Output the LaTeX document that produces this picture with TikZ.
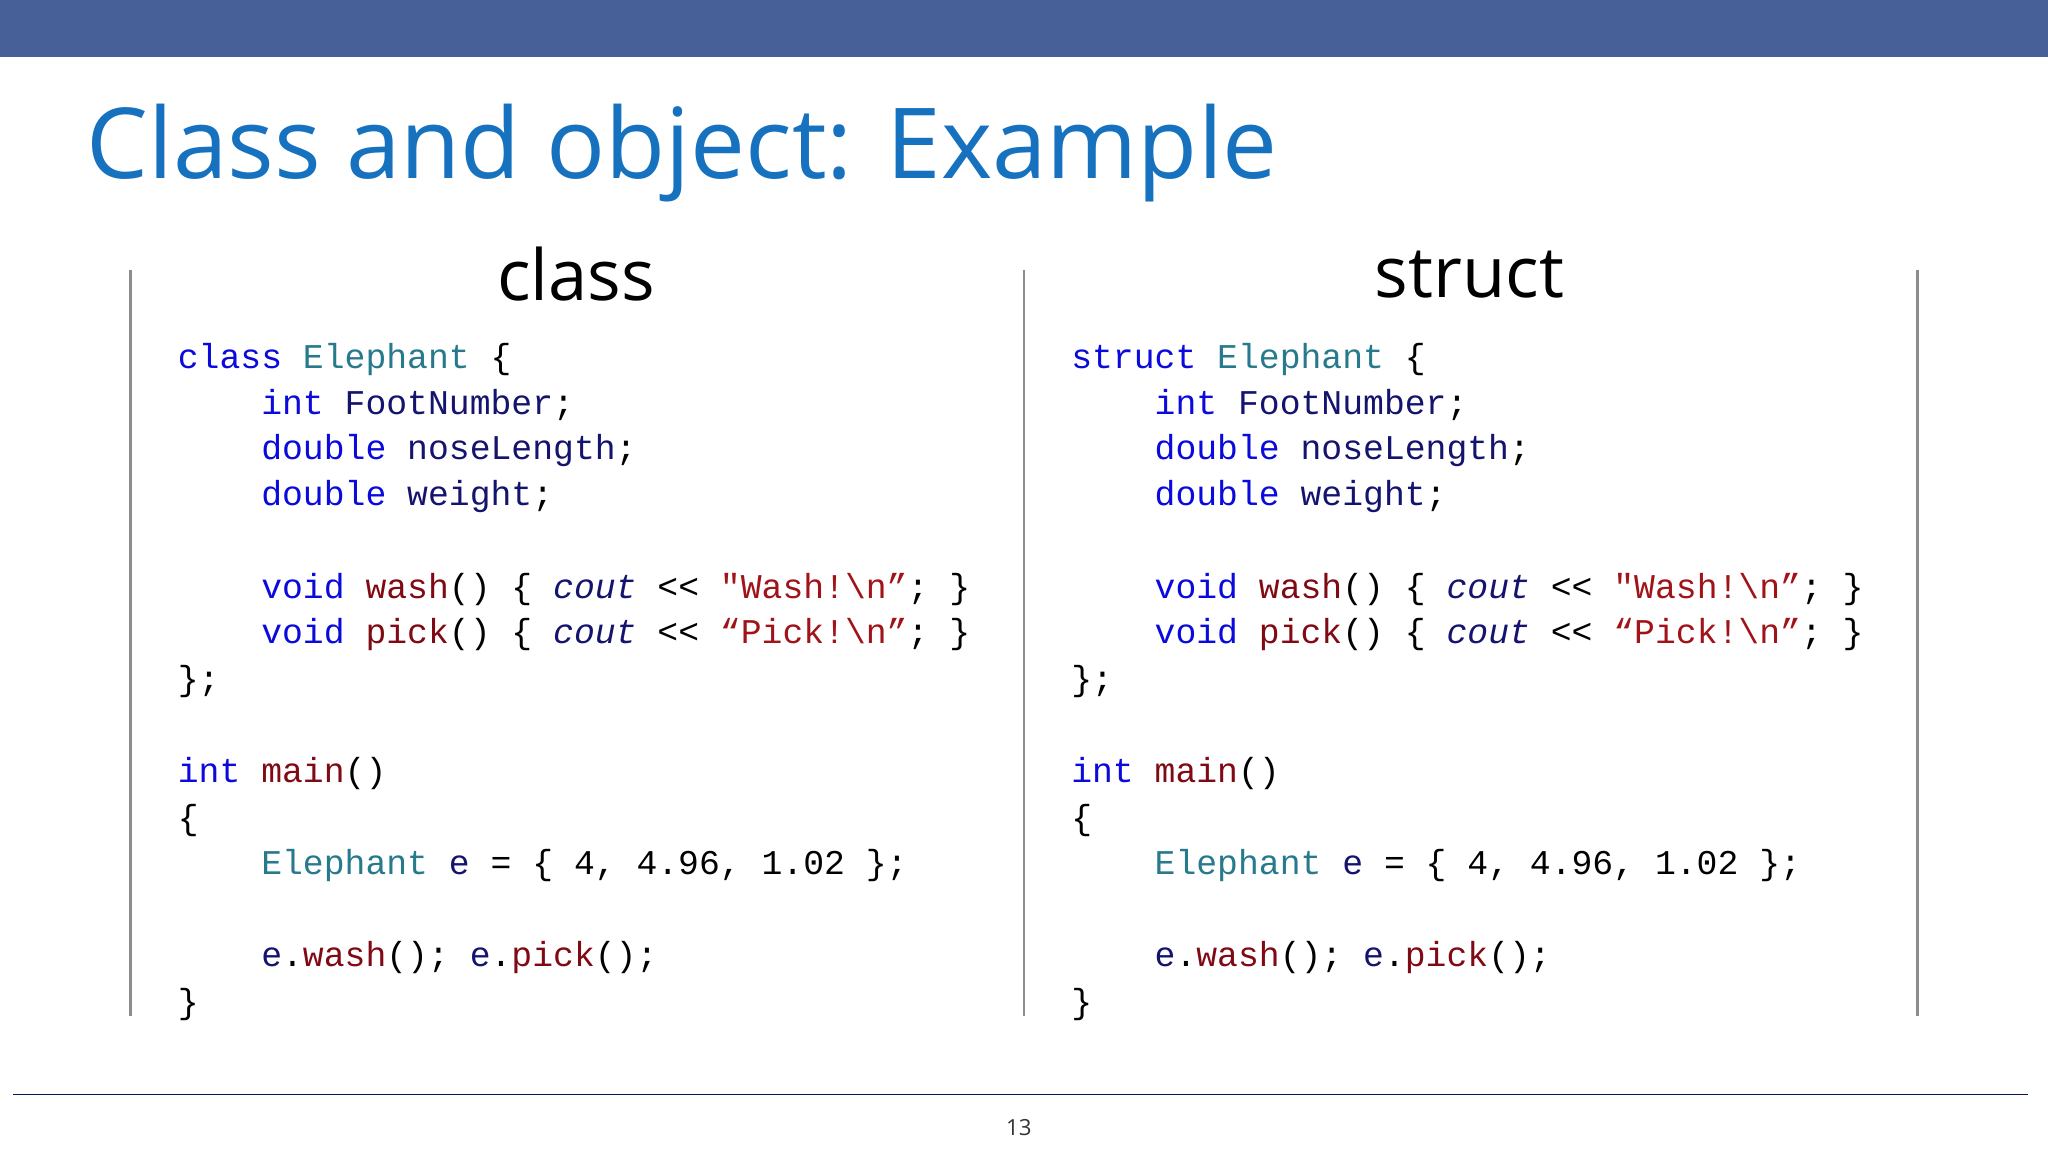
\documentclass[tikz,border=0pt]{standalone}
\usepackage{fontspec}
\setmainfont{Open Sans}
\newfontfamily\code{Liberation Mono}
\definecolor{bar}{RGB}{72,96,152}
\definecolor{ttl}{RGB}{22,113,190}
\definecolor{kw}{RGB}{10,10,220}
\definecolor{ty}{RGB}{38,122,140}
\definecolor{fn}{RGB}{128,10,20}
\definecolor{st}{RGB}{160,20,25}
\definecolor{nv}{RGB}{20,20,110}
\definecolor{rule}{RGB}{10,20,90}
\newcommand\K[1]{\textcolor{kw}{#1}}
\newcommand\T[1]{\textcolor{ty}{#1}}
\newcommand\F[1]{\textcolor{fn}{#1}}
\newcommand\Sg[1]{\textcolor{st}{#1}}
\newcommand\N[1]{\textcolor{nv}{#1}}
\tikzset{cl/.style={anchor=west,inner sep=0pt,font=\code\fontsize{26.6}{30}\selectfont,text=black},
 hd/.style={font=\fontsize{54}{64}\selectfont,text=black},
 vline/.style={draw=gray!90,line width=2pt}}
\begin{document}
\begin{tikzpicture}[x=1pt,y=-1pt]
\useasboundingbox (0,0) rectangle (1568,882);
\fill[bar] (0,0) rectangle (1568,44);
\node[anchor=west,inner sep=0pt,text=ttl,font=\fontsize{75}{90}\selectfont] (title) at (66,117) {Class and object: Example};
\foreach \x/\i in {100/a,784/b,1468/c}{
  \coordinate (t\i) at (\x,207); \coordinate (u\i) at (\x,778);
  \draw[vline] (t\i) -- (u\i);}
\node[hd] (h1) at (441,210) {class};
\node[hd] (h2) at (1125,210) {struct};
\foreach \dx/\kwd/\p in {0/class/l,684/struct/r}{
\begin{scope}[xshift=\dx]
\node[cl] (\p1) at (136,275) {\K{\kwd} \T{Elephant} \{};
\node[cl] (\p2) at (136,310) {\phantom{xxxx}\K{int} \N{FootNumber};};
\node[cl] (\p3) at (136,345) {\phantom{xxxx}\K{double} \N{noseLength};};
\node[cl] (\p4) at (136,380) {\phantom{xxxx}\K{double} \N{weight};};
\node[cl] (\p5) at (136,451) {\phantom{xxxx}\K{void} \F{wash}() \{ \N{\itshape cout} <\kern0pt< \Sg{"Wash!\textbackslash n”}; \}};
\node[cl] (\p6) at (136,486) {\phantom{xxxx}\K{void} \F{pick}() \{ \N{\itshape cout} <\kern0pt< \Sg{“Pick!\textbackslash n”}; \}};
\node[cl] (\p7) at (136,522) {\};};
\node[cl] (\p8) at (136,592) {\K{int} \F{main}()};
\node[cl] (\p9) at (136,628) {\{};
\node[cl] (\p10) at (136,663) {\phantom{xxxx}\T{Elephant} \N{e} = \{ 4, 4.96, 1.02 \};};
\node[cl] (\p11) at (136,733) {\phantom{xxxx}\N{e}.\F{wash}(); \N{e}.\F{pick}();};
\node[cl] (\p12) at (136,769) {\}};
\end{scope}}
\coordinate (r0) at (10,838); \coordinate (r1) at (1553,838);
\draw[rule,line width=1.4pt] (r0) -- (r1);
\node[font=\fontsize{17}{20}\selectfont,text=black!80] (pg) at (780,863) {13};
\end{tikzpicture}
\end{document}
